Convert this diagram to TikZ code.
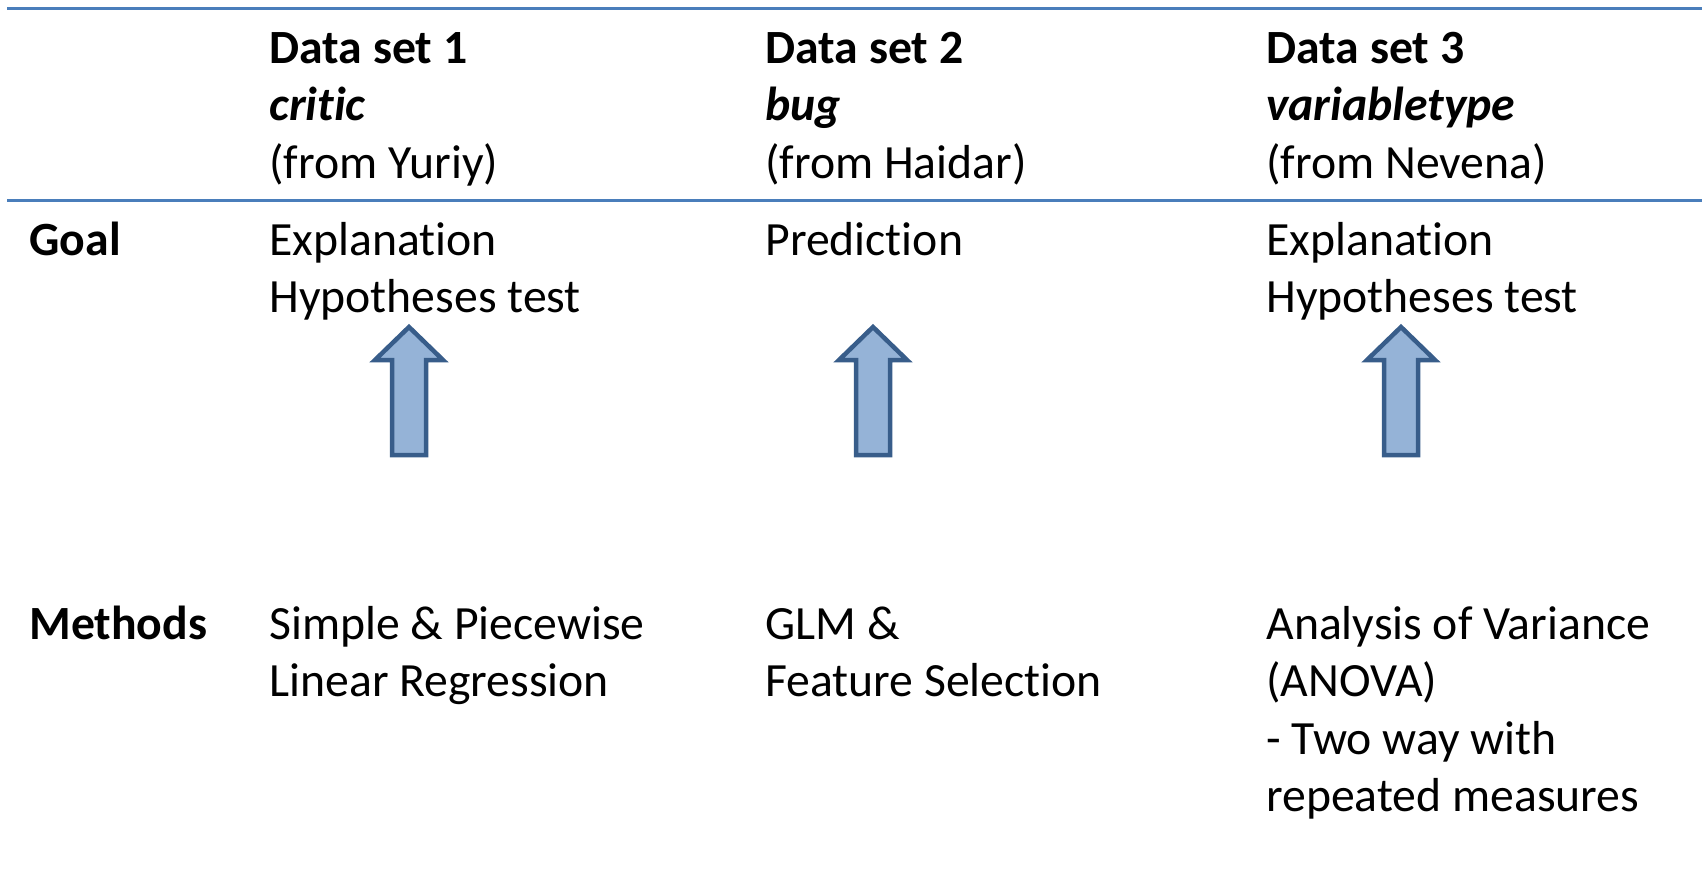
\documentclass[tikz,border=0pt]{standalone}
\usepackage{fontspec}
\setmainfont{Carlito}[RawFeature=-liga]
\definecolor{rulecol}{HTML}{4A7EBB}
\definecolor{arrowfill}{HTML}{95B3D7}
\definecolor{arrowdraw}{HTML}{385D8A}
\begin{document}
\begin{tikzpicture}[x=0.5pt,y=-0.5pt,line join=round,
	txt/.style={anchor=base west,inner sep=0pt,font=\fontsize{23.85}{28.75}\selectfont},
	rule/.style={draw=rulecol,line width=1.5pt},
	uparrow/.style={draw=arrowdraw,fill=arrowfill,line width=2.25pt,line join=miter}]
	\useasboundingbox (0,0) rectangle (1702,889);
	\path
	(7,8)coordinate(TL)++(1695,0)coordinate(TR)
	(7,200)coordinate(ML)++(1695,0)coordinate(MR)
	;
	%%Lines
	\draw[rule] (TL)--(TR) (ML)--(MR);
	%%Header
	\foreach \t [count=\i from 0] in {\textbf{Data set 1},\textbf{\textit{critic}},(from Yuriy)}
		\node[txt] (ds1-\i) at (269,63+57.5*\i) {\t};
	\foreach \t [count=\i from 0] in {\textbf{Data set 2},\textbf{\textit{bug}},(from Haidar)}
		\node[txt] (ds2-\i) at (765,63+57.5*\i) {\t};
	\foreach \t [count=\i from 0] in {\textbf{Data set 3},\textbf{\textit{variabletype}},(from Nevena)}
		\node[txt] (ds3-\i) at (1266,63+57.5*\i) {\t};
	%%Goal
	\node[txt] (goal) at (29,255) {\textbf{Goal}};
	\foreach \t [count=\i from 0] in {Explanation,Hypotheses test}{
		\node[txt] (g1-\i) at (269,255+57.5*\i) {\t};
		\node[txt] (g3-\i) at (1266,255+57.5*\i) {\t};
	}
	\node[txt] (g2-0) at (765,255) {Prediction};
	%%Methods
	\node[txt] (meth) at (29,639) {\textbf{Methods}};
	\foreach \t [count=\i from 0] in {Simple \& Piecewise,Linear Regression}
		\node[txt] (m1-\i) at (269,639+57.5*\i) {\t};
	\foreach \t [count=\i from 0] in {GLM \&,Feature Selection}
		\node[txt] (m2-\i) at (765,639+57.5*\i) {\t};
	\foreach \t [count=\i from 0] in {Analysis of Variance,(ANOVA),- Two way with,repeated measures}
		\node[txt] (m3-\i) at (1266,639+57.5*\i) {\t};
	%%Arrows
	\foreach \c in {409,873,1401}
		\draw[uparrow] (\c-17,455)--(\c+17,455)--(\c+17,360)--(\c+34,360)--(\c,327)
			--(\c-34,360)--(\c-17,360)--cycle;
\end{tikzpicture}
\end{document}
